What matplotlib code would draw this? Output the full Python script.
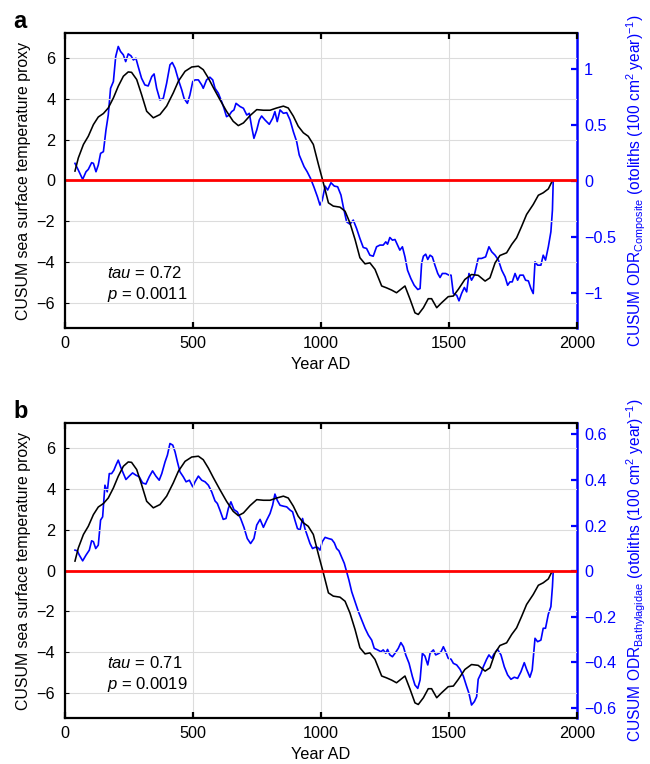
import numpy as np
import matplotlib
matplotlib.use('Agg')
import matplotlib.pyplot as plt
from matplotlib.ticker import FuncFormatter

plt.rcParams['font.family'] = ['Liberation Sans', 'DejaVu Sans']
plt.rcParams['mathtext.fontset'] = 'custom'
plt.rcParams['mathtext.rm'] = 'Liberation Sans'
plt.rcParams['mathtext.it'] = 'Liberation Sans:italic'

# SST proxy CUSUM (same in both panels)
sst_year = [39, 52, 72, 91, 111, 130, 150, 169, 189, 208, 228, 247, 260, 280, 299,
            319, 345, 371, 397, 423, 443, 469, 495, 521, 540, 560, 580, 605, 631,
            657, 677, 697, 723, 749, 775, 801, 827, 853, 872, 892, 911, 931, 950,
            970, 990, 1009, 1029, 1048, 1074, 1094, 1113, 1133, 1152, 1172, 1191,
            1211, 1237, 1256, 1276, 1295, 1315, 1328, 1348, 1367, 1380, 1400, 1419,
            1432, 1452, 1471, 1497, 1517, 1536, 1562, 1588, 1614, 1641, 1660, 1680,
            1699, 1725, 1745, 1764, 1784, 1803, 1829, 1849, 1868, 1888, 1903]
sst_val = [0.46, 1.1, 1.76, 2.16, 2.73, 3.1, 3.27, 3.54, 4.03, 4.6, 5.09, 5.3, 5.28,
           4.93, 4.2, 3.38, 3.06, 3.22, 3.63, 4.28, 4.85, 5.33, 5.54, 5.58, 5.41,
           5.0, 4.52, 3.95, 3.38, 2.89, 2.68, 2.81, 3.17, 3.46, 3.43, 3.43, 3.54,
           3.63, 3.54, 3.14, 2.65, 2.33, 2.16, 1.76, 0.78, -0.11, -1.09, -1.25,
           -1.3, -1.5, -2.07, -2.88, -3.77, -4.07, -4.02, -4.34, -5.15, -5.24,
           -5.35, -5.48, -5.28, -5.15, -5.8, -6.46, -6.54, -6.21, -5.77, -5.77,
           -6.21, -5.97, -5.67, -5.64, -5.32, -4.83, -4.59, -4.63, -4.91, -4.75,
           -4.02, -3.66, -3.53, -3.12, -2.8, -2.23, -1.66, -1.17, -0.72, -0.6,
           -0.41, -0.03]

# ODR composite CUSUM (panel a)
comp_year = [39, 52, 69, 82, 91, 104, 111, 121, 130, 139, 150, 160, 169, 178, 189,
             198, 208, 217, 228, 237, 247, 258, 267, 277, 286, 299, 312, 325, 339,
             348, 358, 371, 384, 397, 410, 419, 430, 443, 456, 465, 478, 488, 499,
             508, 521, 534, 540, 553, 566, 577, 586, 599, 612, 621, 631, 642, 651,
             660, 668, 684, 697, 710, 720, 729, 738, 749, 759, 768, 781, 798, 811,
             820, 829, 840, 853, 866, 879, 892, 905, 915, 924, 934, 946, 959, 972,
             986, 996, 1005, 1016, 1026, 1039, 1052, 1065, 1078, 1087, 1100, 1113,
             1126, 1139, 1152, 1165, 1178, 1191, 1204, 1217, 1230, 1243, 1253, 1260,
             1269, 1279, 1289, 1299, 1308, 1318, 1328, 1338, 1351, 1364, 1378, 1387,
             1393, 1400, 1409, 1417, 1426, 1435, 1445, 1456, 1465, 1474, 1487, 1500,
             1508, 1517, 1530, 1539, 1549, 1560, 1569, 1578, 1588, 1599, 1614, 1627,
             1643, 1656, 1667, 1680, 1693, 1706, 1719, 1729, 1738, 1747, 1758, 1768,
             1777, 1790, 1799, 1810, 1820, 1829, 1836, 1846, 1859, 1868, 1877, 1888,
             1898, 1904, 1907]
comp_val = [0.158, 0.098, 0.015, 0.083, 0.104, 0.164, 0.158, 0.083, 0.143, 0.247,
            0.262, 0.455, 0.589, 0.827, 0.887, 1.11, 1.2, 1.155, 1.125, 1.065,
            1.134, 1.116, 1.08, 1.095, 1.02, 0.917, 0.857, 0.848, 0.932, 0.955,
            0.827, 0.723, 0.738, 0.872, 1.036, 1.057, 1.006, 0.902, 0.813, 0.738,
            0.693, 0.768, 0.887, 0.902, 0.902, 0.857, 0.827, 0.902, 0.926, 0.902,
            0.827, 0.783, 0.708, 0.649, 0.574, 0.589, 0.619, 0.634, 0.693, 0.664,
            0.649, 0.589, 0.604, 0.485, 0.381, 0.455, 0.545, 0.58, 0.545, 0.506,
            0.56, 0.619, 0.53, 0.634, 0.604, 0.61, 0.545, 0.44, 0.351, 0.232,
            0.182, 0.128, 0.083, 0.024, -0.051, -0.14, -0.214, -0.17, -0.045,
            -0.08, -0.015, -0.045, -0.051, -0.125, -0.229, -0.363, -0.384, -0.348,
            -0.423, -0.512, -0.592, -0.601, -0.661, -0.67, -0.586, -0.571, -0.571,
            -0.542, -0.563, -0.503, -0.527, -0.521, -0.571, -0.616, -0.586, -0.676,
            -0.795, -0.869, -0.929, -0.967, -0.958, -0.735, -0.67, -0.652, -0.699,
            -0.661, -0.676, -0.75, -0.824, -0.86, -0.824, -0.824, -0.839, -0.839,
            -1.003, -1.018, -1.068, -1.003, -0.949, -0.988, -0.824, -0.884, -0.839,
            -0.69, -0.69, -0.676, -0.586, -0.631, -0.661, -0.705, -0.795, -0.854,
            -0.929, -0.899, -0.899, -0.824, -0.884, -0.839, -0.839, -0.884, -0.89,
            -0.958, -1.003, -0.72, -0.75, -0.75, -0.661, -0.705, -0.586, -0.452,
            -0.259, -0.006]

# ODR Bathylagidae CUSUM (panel b)
bath_year = [39, 48, 56, 69, 82, 95, 104, 111, 120, 130, 139, 147, 156, 165, 173,
             182, 191, 199, 208, 217, 228, 238, 251, 264, 277, 290, 303, 316, 329,
             342, 355, 368, 378, 391, 400, 410, 421, 430, 439, 449, 462, 473, 486,
             499, 508, 521, 534, 547, 560, 573, 586, 595, 605, 618, 629, 638, 648,
             660, 673, 686, 699, 712, 725, 738, 749, 762, 775, 788, 801, 811, 820,
             829, 840, 853, 866, 879, 889, 898, 908, 918, 928, 937, 947, 957, 967,
             976, 987, 996, 1005, 1016, 1029, 1042, 1052, 1061, 1070, 1081, 1091,
             1100, 1109, 1120, 1133, 1146, 1159, 1172, 1185, 1198, 1208, 1221, 1234,
             1243, 1253, 1260, 1269, 1279, 1289, 1302, 1312, 1322, 1331, 1344, 1357,
             1367, 1378, 1387, 1396, 1406, 1417, 1426, 1439, 1448, 1461, 1469, 1478,
             1487, 1497, 1508, 1517, 1530, 1543, 1556, 1569, 1578, 1588, 1599, 1608,
             1614, 1625, 1634, 1647, 1656, 1667, 1677, 1690, 1703, 1716, 1729, 1742,
             1755, 1768, 1781, 1794, 1803, 1816, 1825, 1836, 1846, 1859, 1868, 1877,
             1888, 1898, 1904, 1907]
bath_val = [0.092, 0.089, 0.07, 0.045, 0.07, 0.092, 0.133, 0.129, 0.099, 0.114,
            0.224, 0.238, 0.377, 0.348, 0.428, 0.428, 0.443, 0.465, 0.487, 0.458,
            0.428, 0.402, 0.417, 0.431, 0.421, 0.414, 0.387, 0.382, 0.414, 0.44,
            0.417, 0.399, 0.428, 0.48, 0.509, 0.56, 0.553, 0.523, 0.48, 0.436,
            0.414, 0.392, 0.399, 0.37, 0.392, 0.417, 0.399, 0.392, 0.377, 0.348,
            0.308, 0.297, 0.268, 0.227, 0.231, 0.275, 0.304, 0.27, 0.26, 0.231,
            0.192, 0.143, 0.121, 0.143, 0.202, 0.227, 0.192, 0.224, 0.253, 0.289,
            0.338, 0.311, 0.289, 0.285, 0.282, 0.268, 0.26, 0.224, 0.187, 0.18,
            0.231, 0.187, 0.154, 0.121, 0.099, 0.104, 0.104, 0.092, 0.129, 0.148,
            0.143, 0.139, 0.124, 0.099, 0.089, 0.06, 0.034, -0.003, -0.039, -0.091,
            -0.135, -0.178, -0.215, -0.251, -0.281, -0.303, -0.339, -0.346, -0.354,
            -0.346, -0.361, -0.344, -0.368, -0.376, -0.361, -0.339, -0.314, -0.332,
            -0.368, -0.405, -0.463, -0.5, -0.515, -0.478, -0.361, -0.373, -0.412,
            -0.361, -0.346, -0.368, -0.361, -0.354, -0.332, -0.354, -0.383, -0.387,
            -0.405, -0.412, -0.431, -0.461, -0.507, -0.537, -0.588, -0.573, -0.551,
            -0.475, -0.449, -0.42, -0.387, -0.368, -0.383, -0.361, -0.344, -0.368,
            -0.42, -0.456, -0.475, -0.466, -0.471, -0.442, -0.402, -0.431, -0.466,
            -0.434, -0.295, -0.31, -0.303, -0.251, -0.251, -0.189, -0.156, -0.069,
            -0.003]

x_ticks = [0, 500, 1000, 1500, 2000]
left_ticks = [-6, -4, -2, 0, 2, 4, 6]
comp_ticks = [-1, -0.5, 0, 0.5, 1]
bath_ticks = [-0.6, -0.4, -0.2, 0, 0.2, 0.4, 0.6]

BLUE = '#0000ff'
FS = 11.7


def fmt(v, pos):
    return ('%g' % v).replace('-', '\u2212')


def panel(rect, letter, oyear, oval, rticks, rlim, rlabel, tau, p):
    ax = fig.add_axes(rect)
    ax2 = ax.twinx()
    ax.set_zorder(ax2.get_zorder() + 1)
    ax.patch.set_visible(False)

    ax.plot(sst_year, sst_val, c='k', lw=1.15, solid_joinstyle='round')
    ax2.plot(oyear, oval, c=BLUE, lw=1.2)
    ax.axhline(0, c='r', lw=2)

    ax.set_xlim(0, 2000)
    ax.set_ylim(-7.2, 7.2)
    ax2.set_ylim(*rlim)
    ax.set_xticks(x_ticks)
    ax.set_yticks(left_ticks)
    ax2.set_yticks(rticks)
    ax.yaxis.set_major_formatter(FuncFormatter(fmt))
    ax2.yaxis.set_major_formatter(FuncFormatter(fmt))
    ax.grid(color='#dcdcdc', lw=0.8)

    for s in ['left', 'top', 'bottom']:
        ax.spines[s].set_linewidth(1.6)
        ax2.spines[s].set_visible(False)
    ax.spines['right'].set_visible(False)
    ax2.spines['right'].set_color(BLUE)
    ax2.spines['right'].set_linewidth(1.8)

    ax.tick_params(axis='x', direction='in', length=4, width=1.6, top=True,
                   labelsize=FS, pad=6)
    ax.tick_params(axis='y', direction='in', length=3, width=0.8,
                   labelsize=FS, pad=7)
    ax2.tick_params(axis='y', direction='in', length=4, width=1.6, colors=BLUE,
                    labelsize=FS, pad=5)

    ax.set_xlabel('Year AD', fontsize=FS, labelpad=4)
    ax.set_ylabel('CUSUM sea surface temperature proxy', fontsize=11.4, labelpad=4)
    ax2.set_ylabel(rlabel, fontsize=11.2, color=BLUE, labelpad=6)

    ax.text(0.083, 0.168, r'$\it{tau}$ = ' + tau, transform=ax.transAxes,
            fontsize=FS + 0.3, va='baseline')
    ax.text(0.083, 0.099, r'$\it{p}$ = ' + p, transform=ax.transAxes,
            fontsize=FS + 0.3, va='baseline')
    fig.text(0.02, rect[1] + rect[3] + 0.006, letter, fontsize=17,
             fontweight='bold', va='baseline')


fig = plt.figure(figsize=(6.5, 7.64), dpi=100, facecolor='w')
unit = r' (otoliths (100 cm$^{2}$ year)$^{-1}$)'
panel([0.1, 0.5707, 0.7877, 0.3861], 'a', comp_year, comp_val, comp_ticks,
      (-1.31, 1.32), r'CUSUM ODR$_{\mathrm{Composite}}$' + unit, '0.72', '0.0011')
panel([0.1, 0.0602, 0.7877, 0.3861], 'b', bath_year, bath_val, bath_ticks,
      (-0.645, 0.65), r'CUSUM ODR$_{\mathrm{Bathylagidae}}$' + unit, '0.71', '0.0019')

fig.savefig('out.png', dpi=100)
